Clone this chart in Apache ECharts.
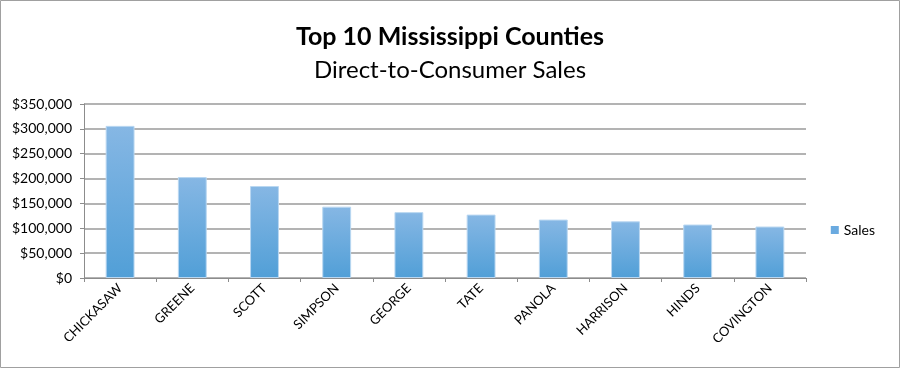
<!DOCTYPE html>
<html>
<head>
<meta charset="utf-8">
<script src="https://cdn.jsdelivr.net/npm/echarts@6/dist/echarts.min.js"></script>
<style>
html,body{margin:0;padding:0;background:#fff;}
#main{width:900px;height:368px;}
</style>
</head>
<body>
<div id="main"></div>
<script>
const categories = ["CHICKASAW","GREENE","SCOTT","SIMPSON","GEORGE","TATE","PANOLA","HARRISON","HINDS","COVINGTON"];
const salesValues = [306000, 203000, 185000, 143500, 132500, 127500, 117500, 114000, 107500, 103500];
const seriesName = "Sales";
const titleText = "Top 10 Mississippi Counties";
const subtitleText = "Direct-to-Consumer Sales";

const FONT = "Lato, 'Open Sans', sans-serif";
const chart = echarts.init(document.getElementById('main'), null, {renderer:'canvas'});
chart.setOption({
  animation:false,
  backgroundColor:'#fff',
  title:[
    {text:titleText, left:'center', top:19, textStyle:{fontFamily:FONT, fontSize:25, fontWeight:'bold', color:'#000'}},
    {text:subtitleText, left:'center', top:53, textStyle:{fontFamily:FONT, fontSize:24, fontWeight:'normal', color:'#000'}}
  ],
  legend:{
    right:20, top:218, orient:'vertical',
    itemWidth:8, itemHeight:8, icon:'rect', itemGap:4,
    itemStyle:{borderWidth:0, color:'#6aaae0'},
    textStyle:{fontFamily:FONT, fontSize:14, color:'#000'},
    data:[seriesName]
  },
  grid:{left:84, right:94, top:104, bottom:90, containLabel:false},
  xAxis:{
    type:'category', data:categories,
    boundaryGap:true,
    axisLine:{lineStyle:{color:'#8c8c8c', width:1}},
    axisTick:{show:true, length:4, lineStyle:{color:'#8c8c8c'}},
    axisLabel:{rotate:45, fontFamily:FONT, fontSize:13, color:'#000', margin:8}
  },
  yAxis:{
    type:'value', min:0, max:350000, interval:50000,
    axisLine:{show:true, lineStyle:{color:'#8c8c8c'}},
    axisTick:{show:true, length:4, lineStyle:{color:'#8c8c8c'}},
    splitLine:{lineStyle:{color:'#9a9a9a', width:1.5}},
    axisLabel:{fontFamily:FONT, fontSize:14, color:'#000', margin:12,
      formatter:v=>'$'+v.toLocaleString('en-US')}
  },
  series:[{
    name:seriesName, type:'bar', data:salesValues, barWidth:'40%',
    itemStyle:{
      color:new echarts.graphic.LinearGradient(0,0,0,1,[{offset:0,color:'#86b7e4'},{offset:1,color:'#519fd7'}]),
      borderColor:'#b9d7f1', borderWidth:1
    }
  }],
  graphic:[{type:'rect', shape:{x:0.5,y:0.5,width:899,height:367}, style:{fill:'none', stroke:'#a0a0a0', lineWidth:1}, silent:true}]
});
</script>
</body>
</html>
